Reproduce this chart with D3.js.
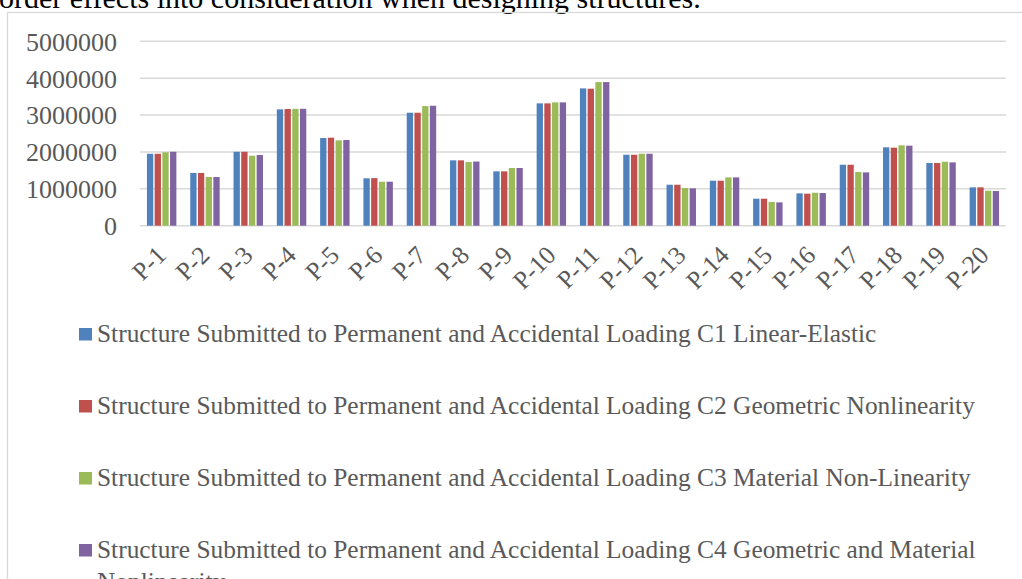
<!DOCTYPE html>
<html>
<head>
<meta charset="utf-8">
<script src="https://cdn.jsdelivr.net/npm/d3@7"></script>
<style>
  html, body { margin: 0; padding: 0; background: #ffffff; overflow: hidden; }
  svg { display: block; }
</style>
</head>
<body>
<svg id="chart" width="1022" height="579"></svg>
<script>
const categories = ["P-1","P-2","P-3","P-4","P-5","P-6","P-7","P-8","P-9","P-10","P-11","P-12","P-13","P-14","P-15","P-16","P-17","P-18","P-19","P-20"];
const seriesNames = [
  "Structure Submitted to Permanent and Accidental Loading C1 Linear-Elastic",
  "Structure Submitted to Permanent and Accidental Loading C2 Geometric Nonlinearity",
  "Structure Submitted to Permanent and Accidental Loading C3 Material Non-Linearity",
  "Structure Submitted to Permanent and Accidental Loading C4 Geometric and Material Nonlinearity"
];
const c1 = [1950000,1430000,2005000,3155000,2377000,1285000,3063000,1772000,1474000,3317000,3723000,1924000,1111000,1220000,732000,877000,1653000,2125000,1699000,1040000];
const c2 = [1950000,1430000,2005000,3165000,2386000,1290000,3063000,1772000,1474000,3317000,3714000,1924000,1111000,1220000,732000,868000,1653000,2116000,1699000,1040000];
const c3 = [1990000,1320000,1897000,3168000,2314000,1193000,3244000,1726000,1564000,3344000,3894000,1951000,1022000,1310000,642000,894000,1455000,2179000,1734000,949000];
const c4 = [2005000,1320000,1916000,3170000,2323000,1193000,3253000,1740000,1564000,3344000,3894000,1951000,1013000,1310000,633000,886000,1446000,2170000,1717000,940000];
const yTicks = [0,1000000,2000000,3000000,4000000,5000000];
const colors = ["#4F81BD","#C0504D","#9BBB59","#8064A2"];
const topText = "order effects into consideration when designing structures.";

const seriesValues = [c1, c2, c3, c4];
const svg = d3.select("#chart");
const textColor = "#595959";
const serif = "'Liberation Serif', 'DejaVu Serif', serif";

// Preceding document text (cut off at top)
svg.append("text")
  .attr("x", -1).attr("y", 8)
  .attr("font-family", serif).attr("font-size", 30)
  .attr("fill", "#000")
  .text(topText);

// Chart frame
svg.append("rect")
  .attr("x", 7.5).attr("y", 12.5)
  .attr("width", 1030).attr("height", 600)
  .attr("fill", "none").attr("stroke", "#d9d9d9").attr("stroke-width", 1.3);

const plot = { left: 140, right: 1006, top: 41.3, bottom: 225.7 };

const x0 = d3.scaleBand().domain(categories)
  .range([plot.left, plot.right]).paddingInner(0.32).paddingOuter(0.16);
const x1 = d3.scaleBand().domain(d3.range(4))
  .range([0, x0.bandwidth()]).paddingInner(0.18);
const y = d3.scaleLinear().domain([0, 5000000]).range([plot.bottom, plot.top]);

// Gridlines
svg.append("g").selectAll("line").data(yTicks).join("line")
  .attr("x1", plot.left).attr("x2", plot.right)
  .attr("y1", d => y(d)).attr("y2", d => y(d))
  .attr("stroke", "#d9d9d9").attr("stroke-width", 1.5);

// Y axis labels
const yAxis = d3.axisLeft(y).tickValues(yTicks).tickFormat(d3.format("d")).tickSize(0).tickPadding(0);
const yg = svg.append("g").attr("transform", "translate(117,0)").call(yAxis);
yg.select(".domain").remove();
yg.selectAll("text")
  .attr("font-family", serif).attr("font-size", 26)
  .attr("fill", textColor).attr("dy", "0.34em");

// Bars
const groups = svg.append("g").selectAll("g").data(categories).join("g")
  .attr("transform", d => `translate(${x0(d)},0)`);
groups.selectAll("rect")
  .data((d, i) => seriesValues.map((s, k) => ({ k, v: s[i] })))
  .join("rect")
  .attr("x", d => x1(d.k))
  .attr("width", x1.bandwidth())
  .attr("y", d => y(d.v))
  .attr("height", d => y(0) - y(d.v))
  .attr("fill", d => colors[d.k]);

// X axis labels (rotated)
const xAxis = d3.axisBottom(x0).tickSize(0).tickPadding(0);
const xg = svg.append("g").attr("transform", `translate(0,${plot.bottom})`).call(xAxis);
xg.select(".domain").remove();
xg.selectAll(".tick text")
  .attr("font-family", serif).attr("font-size", 25.5)
  .attr("fill", textColor)
  .attr("text-anchor", "end")
  .attr("dy", 0)
  .attr("transform", "translate(6,31) rotate(-45)");

// Legend
const legendRows = [
  [seriesNames[0]],
  [seriesNames[1]],
  [seriesNames[2]],
  ["Structure Submitted to Permanent and Accidental Loading C4 Geometric and Material", "Nonlinearity"]
];
const legend = svg.append("g");
legendRows.forEach((lines, i) => {
  const base = 342 + i * 72;
  legend.append("rect")
    .attr("x", 79).attr("y", base - 14)
    .attr("width", 13).attr("height", 12.5)
    .attr("fill", colors[i]);
  const t = legend.append("text")
    .attr("font-family", serif).attr("font-size", 25.4)
    .attr("fill", textColor);
  lines.forEach((ln, j) => {
    t.append("tspan").attr("x", 97).attr("y", base + j * 32).text(ln);
  });
});
</script>
</body>
</html>
